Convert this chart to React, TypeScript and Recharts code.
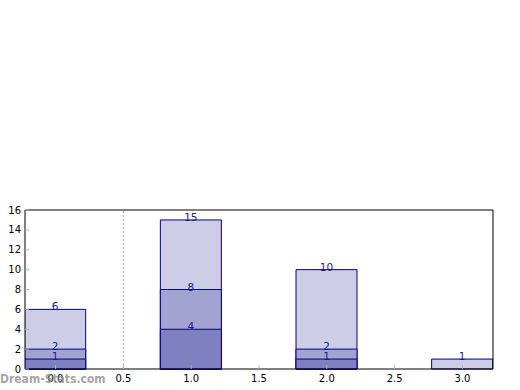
import React from 'react';
import { ComposedChart, Bar, XAxis, YAxis, ReferenceLine, LabelList } from 'recharts';

const positions = [0, 1, 2, 3];
const lightValues = [6, 15, 10, 1];
const midValues = [2, 8, 2, null];
const darkValues = [1, 4, 1, null];
const xTicks = [0, 0.5, 1, 1.5, 2, 2.5, 3];
const yTicks = [0, 2, 4, 6, 8, 10, 12, 14, 16];

const data = positions.map((pos, i) => ({
  pos,
  light: lightValues[i],
  mid: midValues[i],
  dark: darkValues[i],
}));

const W = 520;
const H = 390;
const margin = { top: 209, right: 26, bottom: 0, left: 0 };
const xDomain: [number, number] = [-0.225, 3.225];
const plotWidth = W - margin.left - margin.right - 25 - 1;
const barSize = Math.round((0.45 * plotWidth) / (xDomain[1] - xDomain[0]));

const font = 'DejaVu Sans, sans-serif';
const tickStyle = { fontSize: 10, fill: '#000', fontFamily: font };
const tickMark = { stroke: '#b0b0b0' };

const renderLabel = (props: any) => {
  const { x, y, width, value } = props;
  if (value == null) return null;
  return (
    <text
      x={x + width / 2}
      y={y + 1}
      textAnchor="middle"
      fontSize={10.5}
      fontFamily={font}
      fill="#1a1a8a"
    >
      {value}
    </text>
  );
};

const App: React.FC = () => {
  return (
    <div style={{ position: 'absolute', left: 0, top: 0, width: W, height: H, background: '#fff' }}>
      <ComposedChart width={W} height={H} data={data} margin={margin}>
        <XAxis
          xAxisId="x1"
          dataKey="pos"
          type="number"
          domain={xDomain}
          allowDataOverflow
          ticks={xTicks}
          tickFormatter={(v) => v.toFixed(1)}
          height={21}
          tickSize={-4}
          tickMargin={10}
          tick={tickStyle}
          tickLine={tickMark}
          axisLine={{ stroke: '#000' }}
        />
        <XAxis xAxisId="x2" dataKey="pos" type="number" domain={xDomain} allowDataOverflow hide />
        <XAxis xAxisId="x3" dataKey="pos" type="number" domain={xDomain} allowDataOverflow hide />
        <XAxis
          xAxisId="top"
          orientation="top"
          dataKey="pos"
          type="number"
          domain={xDomain}
          allowDataOverflow
          ticks={xTicks}
          height={1}
          tickSize={-4}
          tick={false}
          tickLine={tickMark}
          axisLine={{ stroke: '#000' }}
        />
        <YAxis
          yAxisId="left"
          domain={[0, 16]}
          ticks={yTicks}
          width={25}
          tickSize={-4}
          tickMargin={8}
          tick={tickStyle}
          tickLine={tickMark}
          axisLine={{ stroke: '#000' }}
          interval={0}
        />
        <YAxis
          yAxisId="right"
          orientation="right"
          domain={[0, 16]}
          ticks={yTicks}
          width={1}
          tickSize={-4}
          tick={false}
          tickLine={tickMark}
          axisLine={{ stroke: '#000' }}
        />
        <ReferenceLine
          xAxisId="x1"
          yAxisId="left"
          x={0.5}
          stroke="#b0b0b0"
          strokeDasharray="2 2"
        />
        <Bar
          xAxisId="x1"
          yAxisId="left"
          dataKey="light"
          barSize={barSize}
          fill="#cdcde6"
          stroke="#000080"
          strokeWidth={1}
          isAnimationActive={false}
        >
          <LabelList dataKey="light" content={renderLabel} />
        </Bar>
        <Bar
          xAxisId="x2"
          yAxisId="left"
          dataKey="mid"
          barSize={barSize}
          fill="#a3a3d1"
          stroke="#000080"
          strokeWidth={1}
          isAnimationActive={false}
        >
          <LabelList dataKey="mid" content={renderLabel} />
        </Bar>
        <Bar
          xAxisId="x3"
          yAxisId="left"
          dataKey="dark"
          barSize={barSize}
          fill="#8080c0"
          stroke="#000080"
          strokeWidth={1}
          isAnimationActive={false}
        >
          <LabelList dataKey="dark" content={renderLabel} />
        </Bar>
      </ComposedChart>
      <div
        style={{
          position: 'absolute',
          left: 0,
          top: 371,
          fontFamily: '"DejaVu Sans Condensed", "DejaVu Sans", sans-serif',
          fontSize: 12,
          fontWeight: 'bold',
          color: 'rgba(140,140,140,0.8)',
          lineHeight: '16px',
          whiteSpace: 'nowrap',
        }}
      >
        Dream-Stats.com
      </div>
    </div>
  );
};

export default App;
